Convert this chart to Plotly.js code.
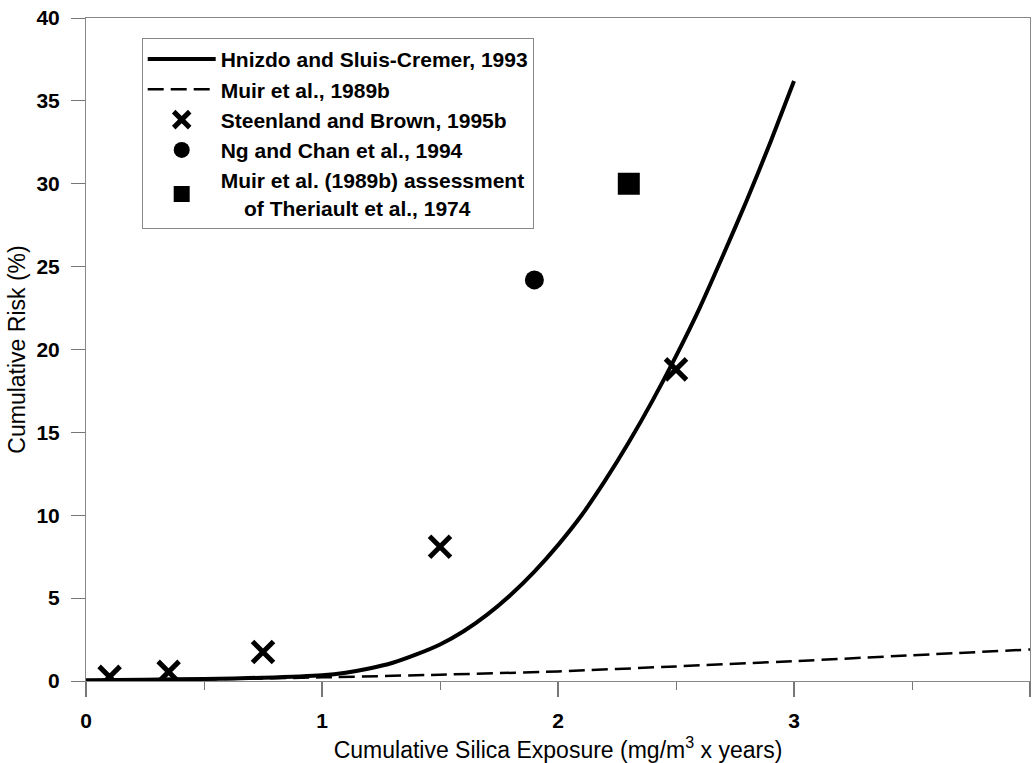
<!DOCTYPE html>
<html>
<head>
<meta charset="utf-8">
<script src="https://cdn.plot.ly/plotly-3.0.1.min.js"></script>
<style>
  html, body { margin: 0; padding: 0; background: #fff; }
  #chart { width: 1035px; height: 763px; }
</style>
</head>
<body>
<div id="chart"></div>
<script>
// ---- Data ----
const hnizdoX = [0, 0.25, 0.5, 0.75, 1.0, 1.1, 1.2, 1.3, 1.4, 1.5, 1.6, 1.7, 1.8, 1.9, 2.0, 2.1, 2.2, 2.3, 2.4, 2.5, 2.6, 2.7, 2.8, 2.9, 3.0];
const hnizdoY = [0.05, 0.08, 0.12, 0.2, 0.35, 0.5, 0.75, 1.1, 1.6, 2.2, 3.0, 4.0, 5.2, 6.6, 8.2, 10.0, 12.1, 14.4, 16.9, 19.6, 22.5, 25.7, 29.0, 32.5, 36.2];

const muirX = [0, 0.5, 1.0, 1.5, 2.0, 2.5, 3.0, 3.5, 4.0];
const muirY = [0.02, 0.1, 0.22, 0.38, 0.58, 0.88, 1.2, 1.55, 1.9];

const steenlandX = [0.1, 0.35, 0.75, 1.5, 2.5];
const steenlandY = [0.25, 0.55, 1.75, 8.1, 18.8];

const ngX = [1.9];
const ngY = [24.2];

const theriaultX = [2.3];
const theriaultY = [30.0];

const seriesNames = [
  'Hnizdo and Sluis-Cremer, 1993',
  'Muir et al., 1989b',
  'Steenland and Brown, 1995b',
  'Ng and Chan et al., 1994',
  'Muir et al. (1989b) assessment<br>\u00a0\u00a0\u00a0\u00a0of Theriault et al., 1974'
];

const xTickVals = [0, 1, 2, 3, 4];
const yTickVals = [0, 5, 10, 15, 20, 25, 30, 35, 40];

const FONT = 'Liberation Sans, Arial, sans-serif';

const traces = [
  { x: hnizdoX, y: hnizdoY, name: seriesNames[0], type: 'scatter', mode: 'lines',
    line: { color: '#000', width: 4, shape: 'spline', smoothing: 0.6 } },
  { x: muirX, y: muirY, name: seriesNames[1], type: 'scatter', mode: 'lines',
    line: { color: '#000', width: 2.5, dash: '16px,7px', shape: 'spline', smoothing: 0.6 } },
  { x: steenlandX, y: steenlandY, name: seriesNames[2], type: 'scatter', mode: 'markers',
    marker: { symbol: 'x-thin', size: 21, color: '#000', line: { color: '#000', width: 5 } } },
  { x: ngX, y: ngY, name: seriesNames[3], type: 'scatter', mode: 'markers',
    marker: { symbol: 'circle', size: 19, color: '#000' } },
  { x: theriaultX, y: theriaultY, name: seriesNames[4], type: 'scatter', mode: 'markers',
    marker: { symbol: 'square', size: 22, color: '#000' } }
];

const layout = {
  width: 1035, height: 763,
  margin: { l: 86, r: 5, t: 18, b: 82 },
  paper_bgcolor: '#fff', plot_bgcolor: '#fff',
  font: { family: FONT, color: '#000' },
  showlegend: true,
  legend: {
    x: 0.059, y: 0.97, xanchor: 'left', yanchor: 'top',
    bgcolor: '#fff', bordercolor: '#888', borderwidth: 1,
    font: { family: FONT, size: 21, weight: 'bold', color: '#000' },
    itemwidth: 68, tracegroupgap: 0
  },
  xaxis: {
    range: [0, 4], tickvals: xTickVals, ticktext: xTickVals.map(String),
    showgrid: false, zeroline: false,
    showline: true, linecolor: '#888', linewidth: 1, mirror: true,
    ticks: 'outside', ticklen: 15, tickcolor: '#777', tickwidth: 1.5,
    minor: { dtick: 0.5, tick0: 0, ticks: 'outside', ticklen: 8, tickcolor: '#777', tickwidth: 1, showgrid: false },
    tickfont: { family: FONT, size: 21, weight: 'bold', color: '#000' },
    ticklabelstandoff: 6,
    title: { text: 'Cumulative Silica Exposure (mg/m<sup>3</sup> x years)', font: { family: FONT, size: 23, color: '#000' }, standoff: 14 }
  },
  yaxis: {
    range: [0, 40], tickvals: yTickVals, ticktext: yTickVals.map(String),
    showgrid: false, zeroline: false,
    showline: true, linecolor: '#888', linewidth: 1, mirror: true,
    ticks: 'outside', ticklen: 14, tickcolor: '#777', tickwidth: 1,
    tickfont: { family: FONT, size: 21, weight: 'bold', color: '#000' },
    ticklabelstandoff: 7,
    title: { text: 'Cumulative Risk (%)', font: { family: FONT, size: 23, color: '#000' }, standoff: 4 }
  }
};

Plotly.newPlot('chart', traces, layout, { displayModeBar: false, staticPlot: true });
</script>
</body>
</html>
